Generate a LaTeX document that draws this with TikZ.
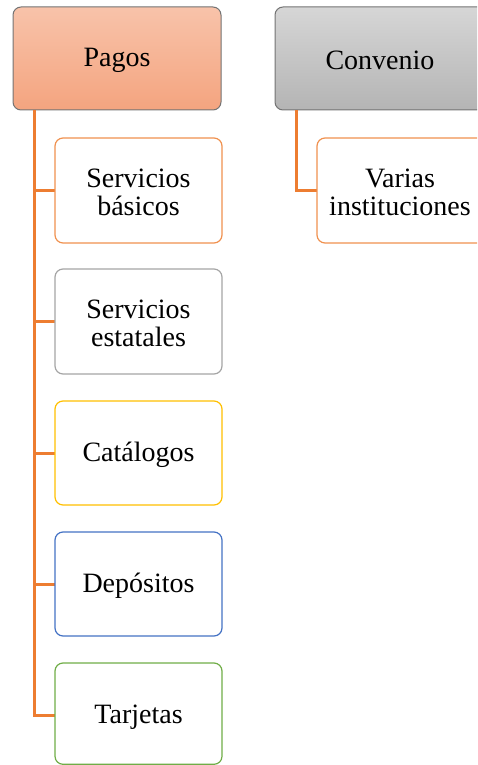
\documentclass[tikz,border=0pt]{standalone}
\usepackage{fontspec}
\setmainfont{Liberation Serif}
\definecolor{orng}{HTML}{ED7D31}
\definecolor{lorng}{HTML}{F0914F}
\definecolor{gryb}{HTML}{A5A5A5}
\definecolor{gold}{HTML}{FFC000}
\definecolor{blu}{HTML}{4472C4}
\definecolor{grn}{HTML}{70AD47}
\definecolor{ptop}{HTML}{F8C3AA}
\definecolor{pbot}{HTML}{F4A47F}
\definecolor{gtop}{HTML}{D6D6D6}
\definecolor{gbot}{HTML}{B4B4B4}
\tikzset{
  x=1pt, y=-1pt,
  txt/.style={font=\fontsize{28}{28}\selectfont, align=center, yshift=-2pt},
  topbox/.style={rounded corners=8pt, draw=#1, line width=1pt},
  childbox/.style={rounded corners=8pt, draw=#1, fill=white, line width=1.2pt},
  conn/.style={draw=orng, line width=3pt}
}
\begin{document}
\begin{tikzpicture}
\useasboundingbox (0,0) rectangle (477,765);
\clip (0,0) rectangle (477,765);
% top boxes
\shade[topbox={black!55}, top color=ptop, bottom color=pbot] (13,7) rectangle (221,110);
\node[txt] (pagos) at (117,58.5) {Pagos};
\shade[topbox={black!55}, top color=gtop, bottom color=gbot] (275,7) rectangle (490,110);
\node[txt] (conv) at (380,58.5) {Convenio};
% connectors
\coordinate (pv) at (34,110);
\coordinate (cv) at (296,110);
\coordinate (c1) at (55,190.5);
\coordinate (c2) at (55,321.5);
\coordinate (c3) at (55,453);
\coordinate (c4) at (55,584);
\coordinate (c5) at (55,715);
\coordinate (cv1) at (317,190.5);
\draw[conn] (pv) |- (c5);
\foreach \c in {c1,c2,c3,c4} \draw[conn] (34,0 |- \c) -- (\c);
\draw[conn] (cv) |- (cv1);
% children
\draw[childbox=lorng] (55,138) rectangle (222,243);
\node[txt] (sb) at (138.5,190.5) {Servicios\\básicos};
\draw[childbox=gryb] (55,269) rectangle (222,374);
\node[txt] (se) at (138.5,321.5) {Servicios\\estatales};
\draw[childbox=gold] (55,401) rectangle (222,505);
\node[txt] (cat) at (138.5,453) {Catálogos};
\draw[childbox=blu] (55,532) rectangle (222,636);
\node[txt] (dep) at (138.5,584) {Depósitos};
\draw[childbox=grn] (55,663) rectangle (222,764.3);
\node[txt] (tar) at (138.5,715) {Tarjetas};
\draw[childbox=lorng] (317,138) rectangle (490,243);
\node[txt] (var) at (400,190.5) {Varias\\instituciones};
\end{tikzpicture}
\end{document}
